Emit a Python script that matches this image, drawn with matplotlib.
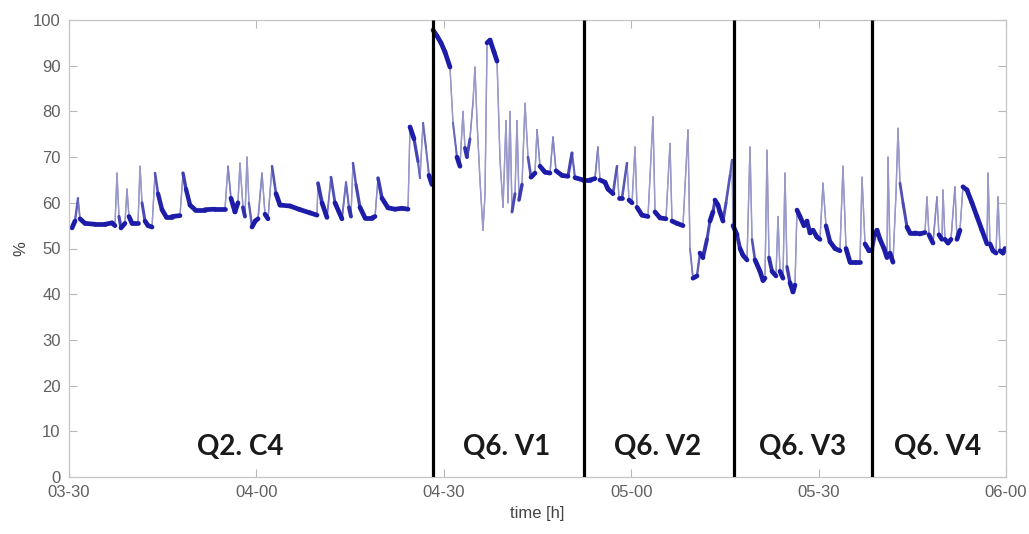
import numpy as np
import matplotlib
matplotlib.use("Agg")
import matplotlib.pyplot as plt
from matplotlib.collections import LineCollection
from matplotlib.colors import to_rgb

# Time axis: minutes after 03:30
minutes = [
    0.48, 0.96, 1.44, 1.76, 2.56, 4.16, 5.76, 6.88, 7.36, 7.68, 8.0, 8.32, 8.96,
    9.28, 9.6, 10.09, 11.05, 11.37, 11.69, 12.17, 12.65, 13.29, 13.77, 14.25,
    14.89, 15.53, 16.49, 17.77, 18.25, 18.73, 19.37, 20.17, 21.77, 23.37, 24.97,
    25.45, 25.93, 26.57, 27.05, 27.37, 27.85, 28.17, 28.5, 28.8, 29.3, 29.8,
    30.26, 30.9, 31.38, 31.86, 32.5, 33.14, 33.78, 35.38, 36.98, 38.58, 39.7,
    39.86, 40.5, 41.3, 41.94, 42.58, 43.7, 44.34, 44.82, 45.14, 45.46, 45.94,
    46.58, 47.39, 48.5, 48.99, 49.47, 50.1, 51.07, 52.19, 53.31, 54.27, 54.59,
    55.23, 55.87, 56.19, 56.67, 57.15, 57.63, 58.11,
    58.27, 58.91, 59.55, 60.19, 60.99, 61.47, 62.11, 62.59, 63.07, 63.39, 63.71,
    64.19, 64.67, 64.99, 65.31, 65.79, 66.27, 66.6, 66.92, 67.4, 68.04, 68.52,
    69.0, 69.48, 69.96, 70.28, 70.6, 70.92, 71.4, 71.72, 72.04, 72.52, 73.0,
    73.48, 73.96, 74.6, 74.92, 75.4, 76.2, 77.0, 77.48, 77.96, 78.92, 79.88,
    80.52, 81.0, 82.28,
    82.44, 83.4, 84.2, 84.68, 85.0, 85.8, 86.29, 87.09, 87.73, 88.05, 88.53,
    89.33, 89.65, 90.13, 90.61, 90.93, 91.73, 92.69, 93.49, 93.81, 94.61, 95.57,
    96.21, 96.53, 97.33, 98.29, 99.09, 99.41, 99.89, 100.53, 101.01, 101.49,
    102.13, 102.61, 103.09, 103.41, 103.89, 104.21, 104.7, 105.18, 105.82,
    106.14,
    106.3, 106.94, 107.42, 107.9, 108.54, 109.02, 109.34, 109.82, 110.62, 111.1,
    111.42, 111.74, 112.06, 112.54, 113.18, 113.5, 113.82, 114.3, 114.62, 114.94,
    115.42, 115.9, 116.22, 116.54, 117.02, 117.66, 118.14, 118.62, 119.1, 119.74,
    120.22, 120.7, 121.18, 121.82, 122.62, 123.42, 123.9, 124.39, 125.03, 125.83,
    126.63, 126.95, 127.43, 128.07,
    128.55, 129.03, 129.35, 129.83, 130.47, 130.95, 131.11, 131.43, 131.91,
    132.39, 132.71, 133.03, 133.51, 134.15, 134.63, 135.43, 136.23, 137.03,
    137.35, 137.67, 138.31, 138.95, 139.27, 139.75, 139.91, 140.23, 140.71,
    141.19, 141.83, 142.15, 142.63, 143.11, 143.75, 144.55, 145.35, 146.15,
    146.96, 147.12, 147.44, 147.92, 148.4, 148.72, 149.04, 149.52, 149.84,
]

# Measured value in percent
percent = [
    54.5, 56.0, 61.0, 56.5, 55.5, 55.3, 55.3, 55.6, 55.0, 66.5, 57.0, 54.5, 55.5,
    63.0, 57.0, 55.5, 55.5, 68.0, 60.0, 56.0, 55.0, 54.7, 66.5, 62.0,
    58.5, 57.0, 57.0, 57.2, 66.5, 63.0, 59.5, 58.5, 58.5, 58.6, 58.6,
    68.0, 61.0, 58.0, 60.0, 68.7, 59.0, 57.0, 70.0, 60.0, 54.7, 56.0,
    56.5, 66.5, 57.5, 56.5, 68.0, 62.0, 59.5, 59.3, 58.5, 57.8, 57.3,
    64.3, 60.0, 56.8, 65.6, 60.0, 56.5, 64.5, 59.0, 57.0, 68.7, 64.0,
    59.0, 56.7, 56.7, 57.0, 65.4, 61.0, 58.9, 58.6, 58.8, 58.6, 76.6,
    74.0, 69.0, 65.4, 77.5, 72.0, 66.0, 64.0,
    97.8, 96.5, 95.0, 93.0, 89.7, 77.5, 70.0, 68.0, 80.0, 72.0, 70.0,
    74.0, 82.0, 89.7, 78.0, 65.0, 54.0, 62.0, 95.0, 95.6, 93.0, 91.0,
    69.4, 59.0, 78.0, 60.0, 80.0, 58.0, 62.0, 78.0, 60.6, 64.0, 81.8,
    70.0, 65.6, 66.5, 76.0, 68.0, 66.7, 66.5, 74.4, 67.0, 66.0, 65.8,
    70.9, 65.5, 65.0,
    65.0, 65.0, 65.3, 72.2, 65.0, 64.5, 63.0, 62.0, 68.0, 61.0, 61.0,
    68.7, 60.6, 60.0, 72.2, 59.0, 57.3, 57.0, 78.8, 58.0, 56.7, 56.5,
    73.0, 56.0, 55.5, 55.0, 76.0, 50.0, 43.5, 44.0, 49.0, 48.0,
    52.0, 56.0, 58.0, 60.6, 59.5, 58.0, 56.0, 60.0, 66.0,
    69.4,
    55.0, 53.0, 50.0, 48.5, 47.5, 72.2, 52.0, 47.5, 45.0, 43.0,
    43.5, 71.5, 48.0, 45.0, 44.0, 57.0, 45.0, 43.5, 66.5, 46.0,
    42.5, 40.5, 42.0, 58.4, 57.0, 55.0, 56.0, 53.4, 54.0, 52.5,
    52.0, 64.3, 55.0, 51.5, 50.0, 49.5, 68.0, 50.0, 47.0, 47.0,
    47.0, 65.6, 51.0, 49.5,
    49.7, 53.0, 54.0, 52.0, 50.0, 48.0, 70.0, 49.0, 47.0,
    62.0, 76.3, 64.3, 60.0, 54.7, 53.4, 53.4, 53.2, 53.5,
    61.3, 53.0, 51.2, 61.3, 53.0, 52.0, 62.8, 52.0, 51.2,
    52.0, 63.5, 52.0, 54.0, 63.5, 62.8, 60.0, 57.0, 54.0,
    51.0, 66.5, 51.0, 49.5, 49.0, 61.3, 49.5, 49.0, 50.0,
]

# Phase boundaries (minutes after 03:30) and phase names
boundaries = [58.3, 82.4, 106.4, 128.5]
phase_labels = ["Q2. C4", "Q6. V1", "Q6. V2", "Q6. V3", "Q6. V4"]
phase_label_x = [27.4, 70.1, 94.3, 117.5, 139.1]
phase_label_y = 6.6

tick_minutes = [0, 30, 60, 90, 120, 150]
tick_labels = ["03-30", "04-00", "04-30", "05-00", "05-30", "06-00"]
y_ticks = list(range(0, 101, 10))

fig = plt.figure(figsize=(10.29, 5.34), dpi=100)
ax = fig.add_axes([69 / 1029, 57 / 534, 937 / 1029, 457 / 534])

# Series drawn segment by segment: slow drift is dark and heavy,
# fast transients are thin and pale (as a dense logger trace looks).
t = np.asarray(minutes, dtype=float)
p = np.asarray(percent, dtype=float)
pts = np.column_stack([t, p]).reshape(-1, 1, 2)
segs = np.concatenate([pts[:-1], pts[1:]], axis=1)
rate = np.abs(np.diff(p)) / np.maximum(np.diff(t), 1e-6)
f = np.clip((np.log10(rate + 0.01) - 0.7) / 0.6, 0, 1)
dark = np.array(to_rgb("#1c1ca8"))
light = np.array(to_rgb("#9a9ac8"))
colors = dark * (1 - f)[:, None] + light * f[:, None]
widths = 3.4 * (1 - f) ** 1.5 + 0.9 * (1 - (1 - f) ** 1.5)

# thin pale trace underneath everything, heavy drift on top
ax.plot(t, p, color="#8c8cd0", linewidth=1.0, zorder=1.5)
order = np.argsort(-f)
lc = LineCollection(segs[order], colors=colors[order], linewidths=widths[order],
                    capstyle="round", joinstyle="round", zorder=2)
ax.add_collection(lc)

ax.vlines(boundaries, 0, 100, colors="black", linewidth=2.3, zorder=3)

for lab, x in zip(phase_labels, phase_label_x):
    ax.text(x, phase_label_y, lab, ha="center", va="center",
            fontsize=20, fontweight="bold", family=["Lato", "DejaVu Sans"],
            color="#1a1a1a", zorder=4)

ax.set_xlim(0, 150)
ax.set_ylim(0, 100)
ax.set_xticks(tick_minutes)
ax.set_xticklabels(tick_labels)
ax.set_yticks(y_ticks)

for s in ax.spines.values():
    s.set_color("#c4c4c4")
    s.set_linewidth(0.9)

ax.tick_params(direction="in", length=6, width=0.8, color="#b8b8b8",
               labelcolor="#606060", labelsize=11, top=True, right=True,
               pad=6)
for lbl in ax.get_xticklabels() + ax.get_yticklabels():
    lbl.set_family(["Liberation Sans", "DejaVu Sans"])
    lbl.set_fontsize(12)

ax.set_xlabel("time [h]", fontsize=12, color="#444444",
              family=["Liberation Sans", "DejaVu Sans"], labelpad=4)
ax.set_ylabel("%", fontsize=12, color="#444444",
              family=["Liberation Sans", "DejaVu Sans"], labelpad=3)

fig.savefig("out.png", dpi=100)
